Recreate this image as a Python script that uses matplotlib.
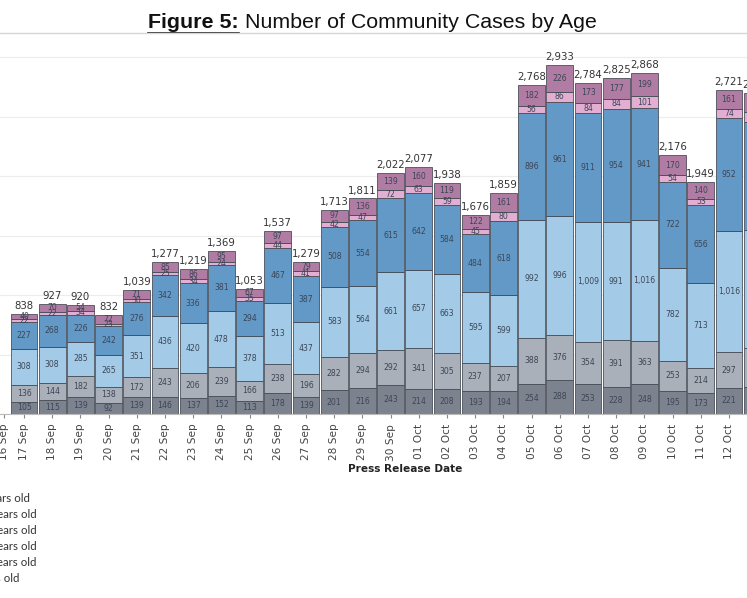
import matplotlib
matplotlib.use("Agg")
import matplotlib.pyplot as plt
import numpy as np
from matplotlib.lines import Line2D

# tick labels (16 Sep has no bar in the visible data)
dates = ["16 Sep", "17 Sep", "18 Sep", "19 Sep", "20 Sep", "21 Sep", "22 Sep",
         "23 Sep", "24 Sep", "25 Sep", "26 Sep", "27 Sep", "28 Sep", "29 Sep",
         "30 Sep", "01 Oct", "02 Oct", "03 Oct", "04 Oct", "05 Oct", "06 Oct",
         "07 Oct", "08 Oct", "09 Oct", "10 Oct", "11 Oct", "12 Oct", "13 Oct"]

# stacked series, bottom to top, from 17 Sep to 13 Oct
age_0_11 = [105, 115, 139, 92, 139, 146, 137, 152, 113, 178, 139, 201, 216, 243,
            214, 208, 193, 194, 254, 288, 253, 228, 248, 195, 173, 221, 230]
age_12_19 = [136, 144, 182, 138, 172, 243, 206, 239, 166, 238, 196, 282, 294, 292,
             341, 305, 237, 207, 388, 376, 354, 391, 363, 253, 214, 297, 325]
age_20_39 = [308, 308, 285, 265, 351, 436, 420, 478, 378, 513, 437, 583, 564, 661,
             657, 663, 595, 599, 992, 996, 1009, 991, 1016, 782, 713, 1016, 991]
age_40_59 = [227, 268, 226, 242, 276, 342, 336, 381, 294, 467, 387, 508, 554, 615,
             642, 584, 484, 618, 896, 961, 911, 954, 941, 722, 656, 952, 910]
age_60_69 = [22, 22, 34, 23, 30, 25, 34, 24, 35, 44, 41, 42, 47, 72,
             63, 59, 45, 80, 56, 86, 84, 84, 101, 54, 53, 74, 84]
age_70_up = [40, 70, 54, 72, 71, 85, 86, 95, 67, 97, 79, 97, 136, 139,
             160, 119, 122, 161, 182, 226, 173, 177, 199, 170, 140, 161, 155]

series = [age_0_11, age_12_19, age_20_39, age_40_59, age_60_69, age_70_up]
series_names = ["0 - 11 years old", "12 - 19 years old", "20 - 39 years old",
                "40 - 59 years old", "60 - 69 years old", "70+ years old"]
colors = ["#7d838e", "#aab0b9", "#a3cbe8", "#6399c7", "#e2afd2", "#b17ca4"]

W_PX, H_PX = 747, 598
fig = plt.figure(figsize=(W_PX / 100, H_PX / 100), dpi=100)

# axes overhang the figure edges (the reference is a crop)
x_lo, x_hi = -0.8, 27.5
px0, step = -4.2, 28.2
left_px = px0 + step * x_lo
right_px = px0 + step * x_hi
base_px, top_px = 414, 40
ax = fig.add_axes([left_px / W_PX, 1 - base_px / H_PX,
                   (right_px - left_px) / W_PX, (base_px - top_px) / H_PX])

x = np.arange(1, len(age_0_11) + 1)
bottom = np.zeros(len(x))
for vals, col in zip(series, colors):
    vals = np.array(vals)
    ax.bar(x, vals, 0.95, bottom=bottom, color=col, edgecolor="#40464f",
           linewidth=0.55, zorder=2)
    for xi, b, v in zip(x, bottom, vals):
        ax.text(xi, b + v / 2, f"{v:,}", ha="center", va="center",
                fontsize=5.6, color="#3c4656", zorder=3)
    bottom += vals

for xi, tot in zip(x, bottom):
    ax.text(xi, tot + 25, f"{int(tot):,}", ha="center", va="bottom",
            fontsize=7.3, color="#333333", zorder=3)

ax.set_xlim(x_lo, x_hi)
ax.set_ylim(0, (base_px - top_px) / 0.119)
ax.set_yticks(np.arange(0, 3001, 500))
ax.yaxis.grid(True, color="#ececec", linewidth=0.8, zorder=0)
ax.set_axisbelow(True)
ax.tick_params(axis="y", left=False, labelleft=False)
tick_pos = np.arange(len(dates), dtype=float)
tick_pos[0] = 0.3  # the cropped 16 Sep label sits closer to 17 Sep
ax.set_xticks(tick_pos)
ax.set_xticklabels(dates, rotation=90, fontsize=7.6, color="#444444")
ax.tick_params(axis="x", length=3, color="#888888", pad=4)
for s in ["top", "right", "left"]:
    ax.spines[s].set_visible(False)
ax.spines["bottom"].set_color("#bbbbbb")

fig.text(405 / W_PX, 1 - 469 / H_PX, "Press Release Date", ha="center",
         va="center", fontsize=7.6, fontweight="bold", color="#222222")

# title with underlined "Figure 5:"
renderer = fig.canvas.get_renderer()
ty = 1 - 22 / H_PX
t1 = fig.text(148 / W_PX, ty, "Figure 5:", fontsize=15.4, fontweight="bold",
              family="Liberation Sans", va="center", ha="left", color="#111111")
bb1 = t1.get_window_extent(renderer)
t2 = fig.text(bb1.x1 / W_PX, ty, " Number of Community Cases by Age",
              fontsize=15.4, family="Liberation Sans", va="center", ha="left",
              color="#111111")
uy = (bb1.y0 - 1) / H_PX
fig.add_artist(Line2D([bb1.x0 / W_PX, bb1.x1 / W_PX], [uy, uy],
                      transform=fig.transFigure, color="#111111", lw=1.2))
fig.add_artist(Line2D([0, 1], [1 - 33 / H_PX] * 2, transform=fig.transFigure,
                      color="#d6d6d6", lw=1))

# legend text, cut at the left edge like the reference
leg_y = [498, 514, 530, 546, 562, 578]
probe = fig.text(0, 0, series_names[1], fontsize=8.3, family="Lato")
w_long = probe.get_window_extent(renderer).width
probe.remove()
lx = (37 - w_long) / W_PX
for name, yy in zip(series_names, leg_y):
    fig.text(lx, 1 - yy / H_PX, name, fontsize=8.3, family="Lato",
             color="#333333", va="center", ha="left")

fig.savefig("out.png", dpi=100)
